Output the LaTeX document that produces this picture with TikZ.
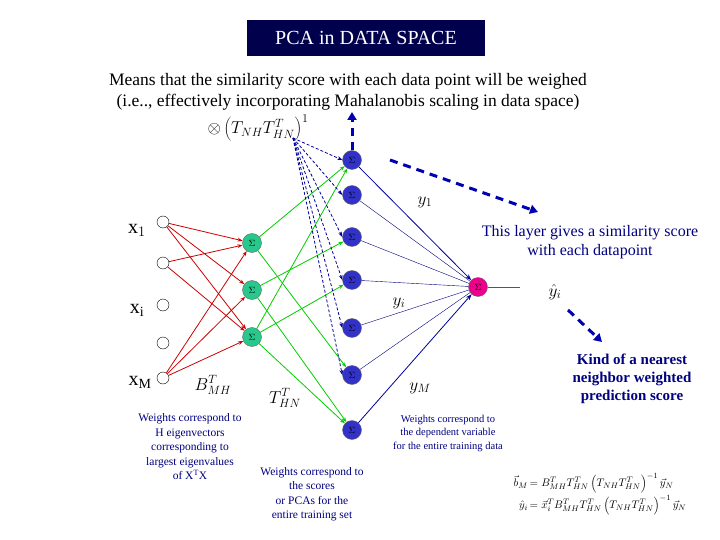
\documentclass[tikz,border=0pt]{standalone}
\usepackage{fontspec}
\setmainfont{Liberation Serif}
\usetikzlibrary{arrows.meta}
\newcommand{\fs}[1]{\fontsize{#1pt}{\dimexpr #1pt+3pt\relax}\selectfont}
\begin{document}
\begin{tikzpicture}[x=1pt,y=-1pt,
 inp/.style={circle,draw,minimum size=12pt,inner sep=0,fill=white},
 hid/.style={circle,draw=black!60,fill={rgb,255:red,40;green,200;blue,140},minimum size=19pt,inner sep=0,font=\fs{9}},
 blu/.style={circle,draw=black!60,fill={rgb,255:red,50;green,50;blue,200},minimum size=19pt,inner sep=0,font=\fs{9}},
 pnk/.style={circle,draw=black!60,fill=magenta,minimum size=19pt,inner sep=0,font=\fs{9}},
 red/.style={red!80!black,thick,-{Stealth[length=5pt]}},
 grn/.style={green!80!black,thick,-{Stealth[length=5pt]}},
 bd/.style={blue!60!black,densely dashed,thick,-{Stealth[length=5pt]}},
 bl/.style={blue!50!black,thin},
 big/.style={blue!70!black,line width=3pt,dash pattern=on 8pt off 6pt,-{Triangle[length=8pt,width=9pt]}},
 lbl/.style={align=center}]
\useasboundingbox (0,0) rectangle (720,540);
\node[fill=blue!30!black,text=white,font=\fs{20},minimum width=238pt,minimum height=36pt] (title) at (366,38) {PCA in DATA SPACE};
\node[font=\fs{17.5},align=center] (sub) at (348,92) {Means that the similarity score with each data point will be weighed\\(i.e.., effectively incorporating Mahalanobis scaling in data space)};
\node[font=\fs{17}] (mult) at (258,128) {$\otimes\left(T_{NH}T^T_{HN}\right)^{1}$};
\coordinate (src) at (293,138);
\foreach \n/\y in {1/222,2/263,3/305,4/343,5/378} \node[inp] (i\n) at (163,\y) {};
\node[font=\fs{20}] (lx1) at (137,230) {x$_1$};
\node[font=\fs{20}] (lxi) at (137,310) {x$_\mathrm{i}$};
\node[font=\fs{20}] (lxm) at (140,382) {x$_\mathrm{M}$};
\foreach \n/\y in {1/243,2/290,3/337} \node[hid] (h\n) at (252,\y) {$\Sigma$};
\foreach \n/\y in {1/160,2/195,3/237,4/280,5/328,6/375,7/430} \node[blu] (b\n) at (352,\y) {$\Sigma$};
\node[pnk] (p) at (478,287) {$\Sigma$};
\foreach \a/\b in {1/1,1/2,1/3,2/1,2/3,5/1,5/2,5/3} \draw[red] (i\a) -- (h\b);
\foreach \a/\b in {1/1,1/6,2/3,2/7,3/1,3/4,3/7} \draw[grn] (h\a) -- (b\b);
\foreach \b in {1,...,6} \draw[bd] (src) -- (b\b.west);
\foreach \b in {2,...,6} \draw[bl] (b\b) -- (p);
\draw[blue!60!black,thick,-{Stealth[length=6pt]}] (b1) -- (p);
\draw[blue!60!black,thick,-{Stealth[length=6pt]}] (b7) -- (p);
\coordinate (up) at (352,112);
\draw[big] (b1.north) -- (up);
\coordinate (d1) at (390,160); \coordinate (d2) at (538,212);
\draw[big] (d1) -- (d2);
\coordinate (e1) at (568,310); \coordinate (e2) at (602,342);
\draw[big] (e1) -- (e2);
\coordinate (pm) at (520,287);
\draw[magenta,thick] (p) -- (pm);
\node[font=\fs{17}] (y1) at (425,202) {$y_1$};
\node[font=\fs{17}] (yi) at (399,303) {$y_i$};
\node[font=\fs{17}] (ym) at (420,388) {$y_M$};
\node[font=\fs{17}] (yh) at (555,292) {$\hat y_i$};
\node[font=\fs{17}] (bm) at (213,385) {$B^T_{MH}$};
\node[font=\fs{17}] (th) at (285,398) {$T^T_{HN}$};
\node[lbl,font=\fs{16},text=blue!50!black] (t1) at (590,242) {This layer gives a similarity score\\with each datapoint};
\node[lbl,font=\fs{15}\bfseries,text=blue!50!black] (t2) at (632,379) {Kind of a nearest\\neighbor weighted\\prediction score};
\node[lbl,font=\fs{11.5},text=blue!50!black] (t3) at (190,447) {Weights correspond to\\H eigenvectors\\corresponding to\\largest eigenvalues\\of X$^{\mathrm T}$X};
\node[lbl,font=\fs{11.5},text=blue!50!black] (t4) at (312,494) {Weights correspond to\\the scores\\or PCAs for the\\entire training set};
\node[lbl,font=\fs{10.5},text=blue!50!black] (t5) at (448,433) {Weights correspond to\\the dependent variable\\for the entire training data};
\node[font=\fs{11}] (eq) at (600,494) {$\begin{array}{r@{\,}l}\vec b_M&=B^T_{MH}T^T_{HN}\left(T_{NH}T^T_{HN}\right)^{-1}\vec y_N\\[4pt] \hat y_i&=\vec x^T_iB^T_{MH}T^T_{HN}\left(T_{NH}T^T_{HN}\right)^{-1}\vec y_N\end{array}$};
\end{tikzpicture}
\end{document}
